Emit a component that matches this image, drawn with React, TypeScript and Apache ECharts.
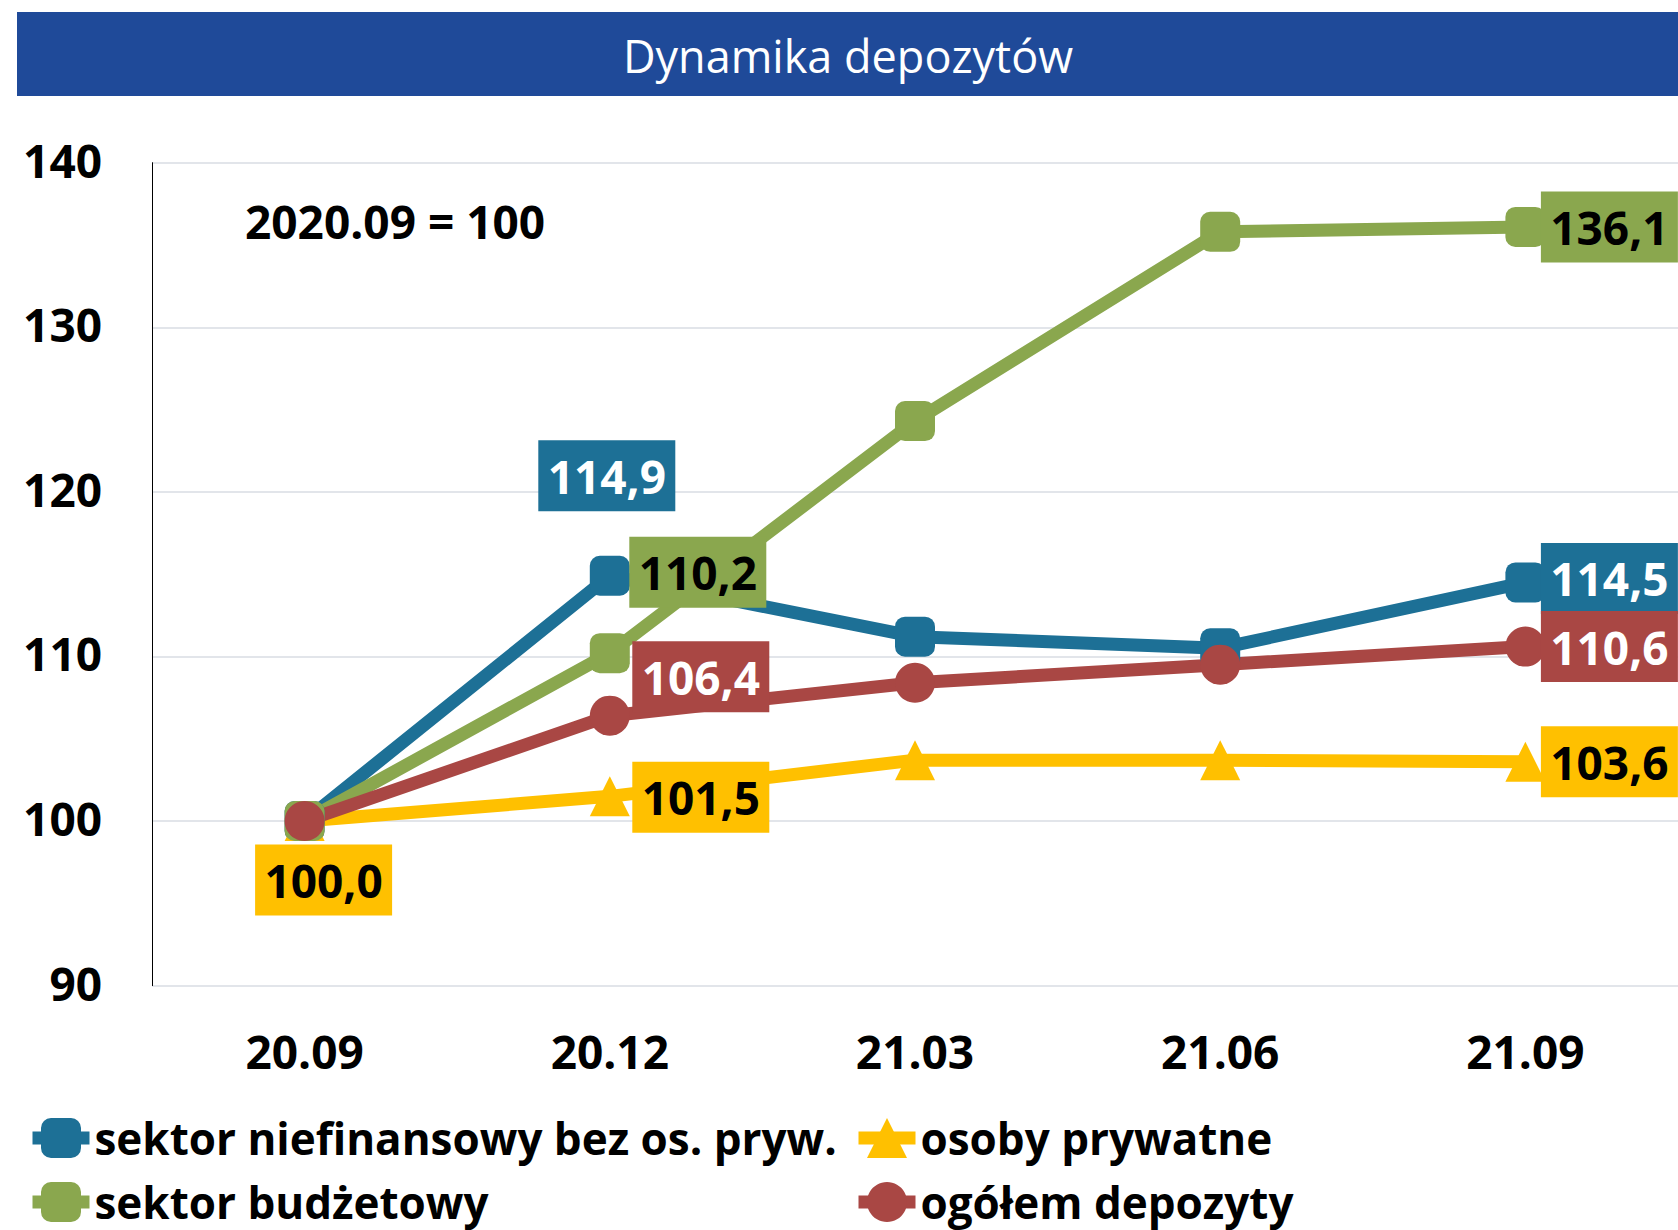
import React, { useEffect, useRef } from "react";
import * as echarts from "echarts";

const categories = ["20.09", "20.12", "21.03", "21.06", "21.09"];
const niefinansowy = [100, 114.9, 111.2, 110.5, 114.5];
const prywatne = [100, 101.5, 103.7, 103.7, 103.6];
const budzetowy = [100, 110.2, 124.3, 135.8, 136.1];
const ogolem = [100, 106.4, 108.4, 109.5, 110.6];
const seriesNames = [
  "sektor niefinansowy bez os. pryw.",
  "osoby prywatne",
  "sektor budżetowy",
  "ogółem depozyty",
];
const yTicks = { min: 90, max: 140, interval: 10 };
const titleText = "Dynamika depozytów";
const baseText = "2020.09 = 100";

// label placements (index -> offset) per series
const labelOffsets: Record<string, Record<number, [number, number]>> = {
  blue: { 1: [-3, -100], 4: [84, -4] },
  yellow: { 0: [19, 59], 1: [91, 1], 4: [84, 0] },
  green: { 1: [88, -81], 4: [84, 0] },
  red: { 1: [91, -39], 4: [84, 0] },
};

const FONT = "'Open Sans', sans-serif";
const fmt = (v: number) => v.toFixed(1).replace(".", ",");

function buildData(values: number[], offsets: Record<number, [number, number]>, bg: string, fg: string) {
  return values.map((v, i) => {
    const off = offsets[i];
    if (!off) return { value: v, label: { show: false } };
    return {
      value: v,
      label: {
        show: true,
        position: "inside",
        offset: off,
        formatter: () => fmt(v),
        backgroundColor: bg,
        color: fg,
        fontFamily: FONT,
        fontWeight: "bold",
        fontSize: 46,
        width: 125,
        height: 59,
        lineHeight: 59,
        padding: [6, 6],
        align: "center",
        verticalAlign: "middle",
      },
    };
  });
}

export default function App() {
  const ref = useRef<HTMLDivElement>(null);
  useEffect(() => {
    if (!ref.current) return;
    const chart = echarts.init(ref.current, undefined, { renderer: "svg" });
    const BLUE = "#1D7096";
    const GREEN = "#8AA74E";
    const YELLOW = "#FFC000";
    const RED = "#A94744";
    const lw = 13;
    const mk = (name: string, data: number[], color: string, symbol: string, key: string, fg: string) => ({
      name,
      type: "line",
      data: buildData(data, labelOffsets[key], color, fg),
      symbol,
      symbolSize: 40,
      lineStyle: { color, width: lw },
      itemStyle: { color },
      z: 2,
    });
    const legendItem = (name: string, left: number, top: number) => ({
      orient: "horizontal",
      left,
      top,
      itemWidth: 57,
      itemHeight: 50,
      data: [name],
      textStyle: { fontFamily: FONT, fontWeight: "bold", fontSize: 44, color: "#000", lineHeight: 50 },
      lineStyle: { width: lw },
    });
    chart.setOption({
      animation: false,
      backgroundColor: "#fff",
      graphic: [
        { type: "rect", shape: { x: 17, y: 12, width: 1670, height: 84 }, style: { fill: "#1F4A99" }, z: 0 },
        {
          type: "text",
          x: 848,
          y: 55,
          style: { text: titleText, fill: "#fff", font: `45px ${FONT}`, textAlign: "center", textVerticalAlign: "middle" },
          z: 1,
        },
        {
          type: "text",
          x: 245,
          y: 221,
          style: { text: baseText, fill: "#000", font: `bold 46px ${FONT}`, textAlign: "left", textVerticalAlign: "middle" },
          z: 1,
        },
      ],
      grid: { left: 152, right: 0, top: 162.7, bottom: 244.4, containLabel: false },
      xAxis: {
        type: "category",
        data: categories,
        boundaryGap: true,
        axisLine: { show: false },
        axisTick: { show: false },
        axisLabel: { fontFamily: FONT, fontWeight: "bold", fontSize: 46, color: "#000", margin: 42, lineHeight: 46 },
      },
      yAxis: {
        type: "value",
        min: yTicks.min,
        max: yTicks.max,
        interval: yTicks.interval,
        axisLine: { show: true, lineStyle: { color: "#000", width: 1 } },
        axisTick: { show: false },
        splitLine: { show: true, lineStyle: { color: "#D9DCE3", width: 1.5 } },
        axisLabel: {
          fontFamily: FONT,
          fontWeight: "bold",
          fontSize: 46,
          color: "#000",
          margin: 50,
          verticalAlign: "bottom",
          lineHeight: 6,
        },
      },
      legend: [
        legendItem(seriesNames[0], 21, 1108),
        legendItem(seriesNames[2], 21, 1172),
        legendItem(seriesNames[1], 847, 1108),
        legendItem(seriesNames[3], 847, 1172),
      ],
      series: [
        mk(seriesNames[0], niefinansowy, BLUE, "roundRect", "blue", "#fff"),
        mk(seriesNames[1], prywatne, YELLOW, "triangle", "yellow", "#000"),
        mk(seriesNames[2], budzetowy, GREEN, "roundRect", "green", "#000"),
        mk(seriesNames[3], ogolem, RED, "circle", "red", "#fff"),
      ],
    });
    return () => chart.dispose();
  }, []);
  return (
    <div
      ref={ref}
      style={{ position: "absolute", left: 0, top: 0, width: 1678, height: 1230 }}
    />
  );
}
